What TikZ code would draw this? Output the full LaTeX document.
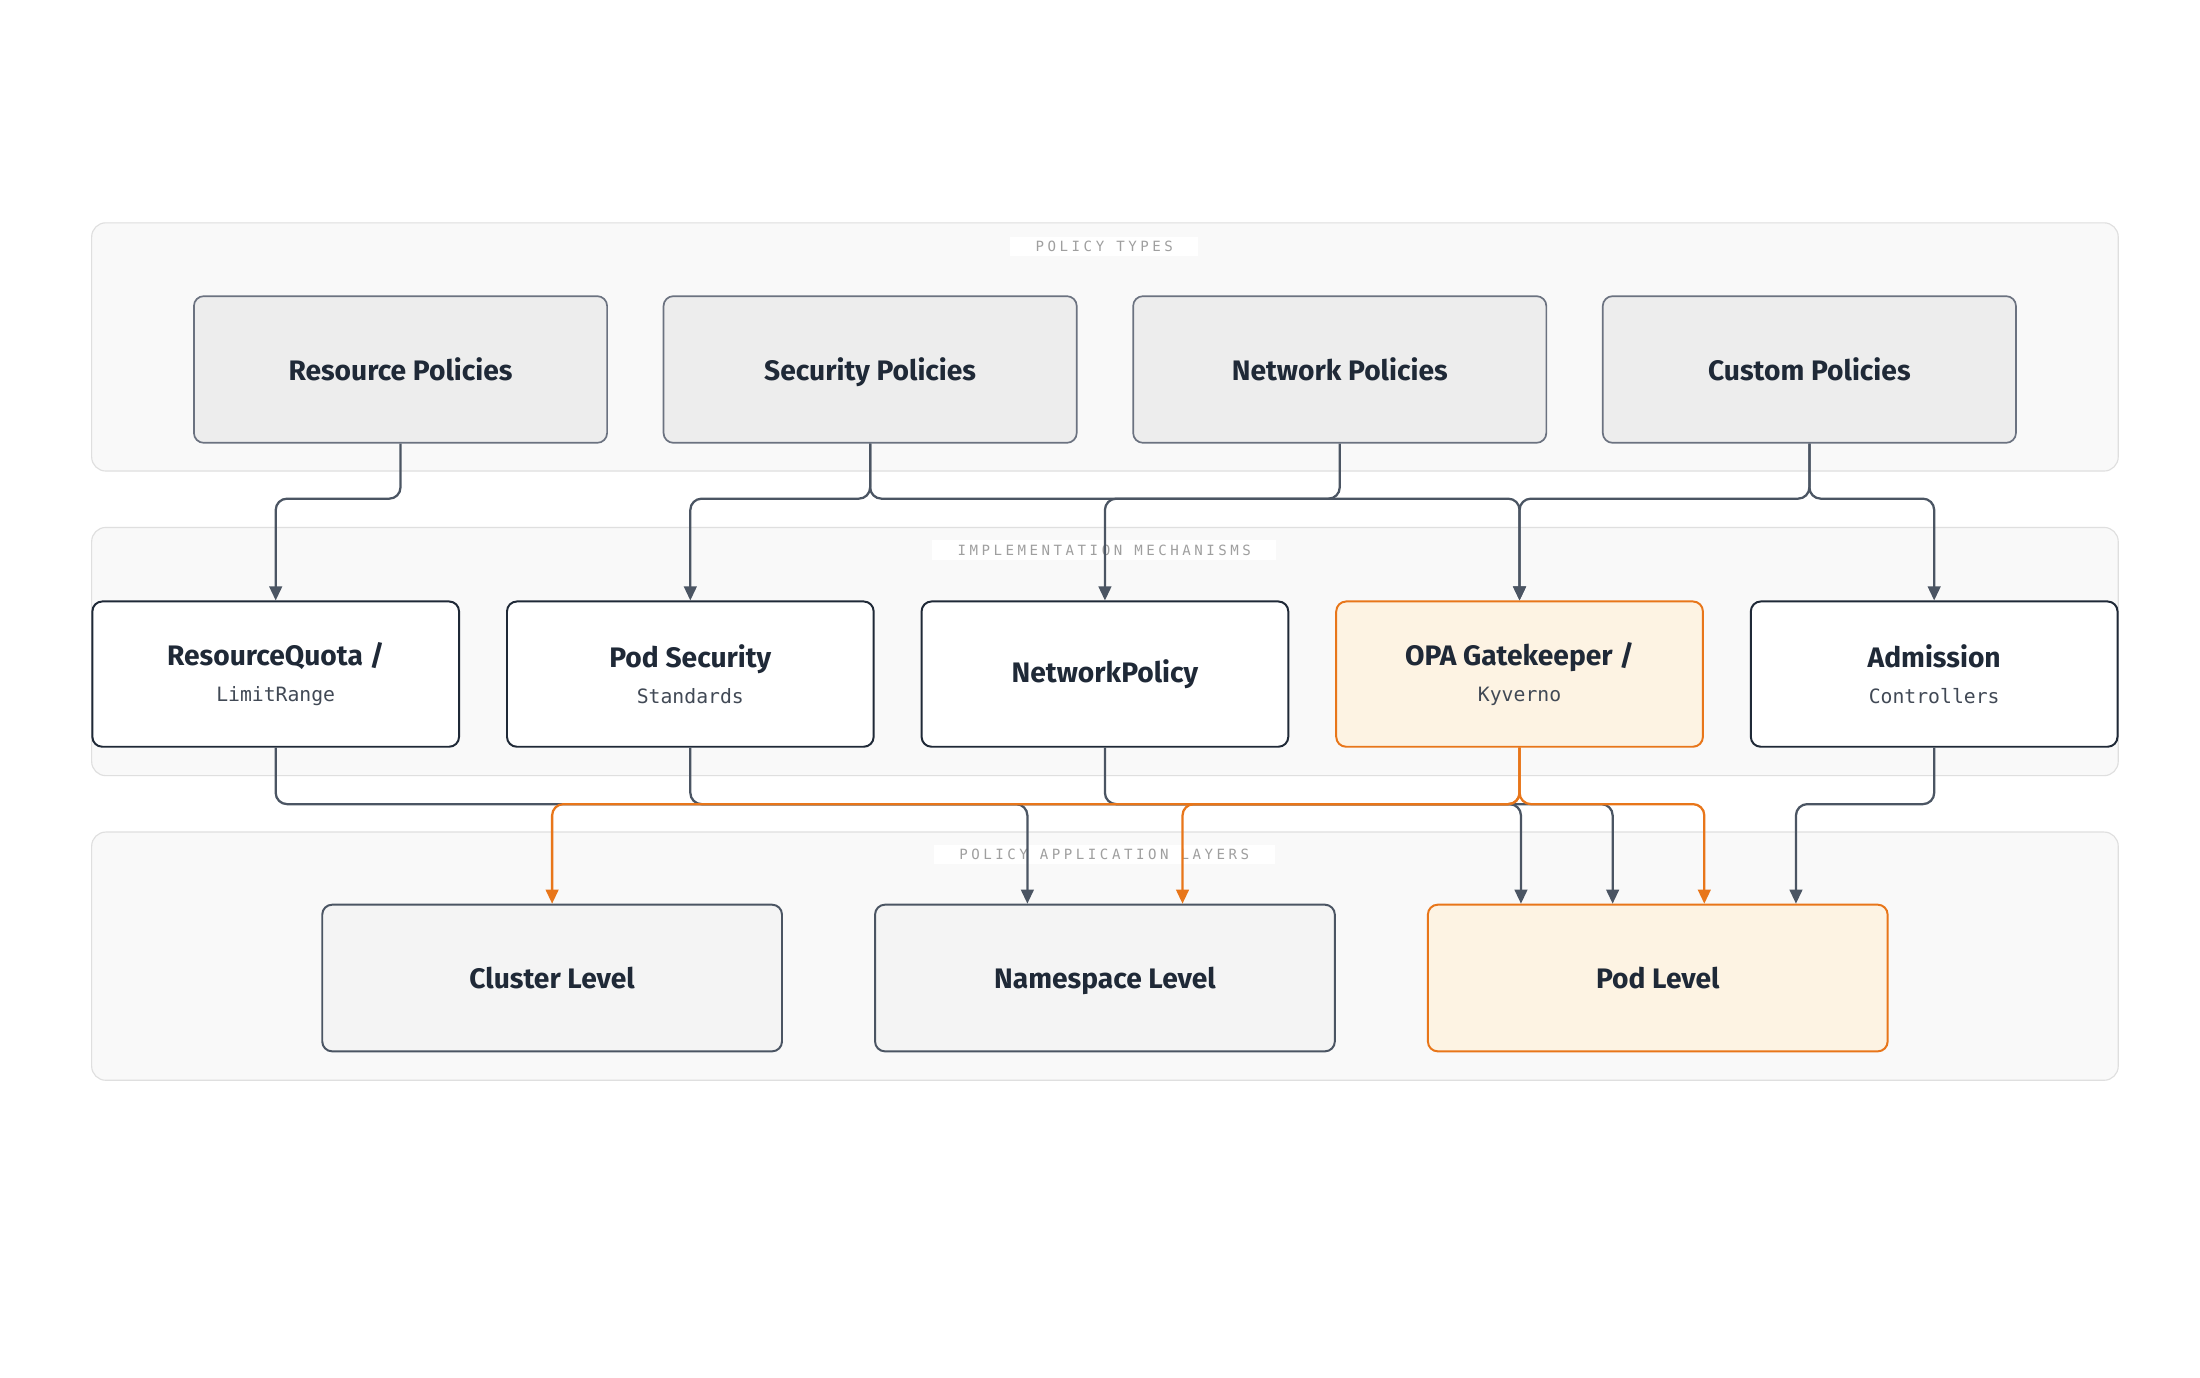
\documentclass[tikz,border=0pt]{standalone}
\usepackage{fontspec}
\setmainfont{Fira Sans}
\newfontfamily\monofont{DejaVu Sans Mono}
\newfontfamily\labelfont[LetterSpace=25]{DejaVu Sans Mono}
\usetikzlibrary{arrows.meta}
\definecolor{linegray}{HTML}{4B5563}
\definecolor{edgegray}{HTML}{6B7280}
\definecolor{darkline}{HTML}{1F2937}
\definecolor{accent}{HTML}{E8761A}
\definecolor{accentfill}{HTML}{FDF3E3}
\tikzset{
  panel/.style={draw=gray!25,fill=gray!5,rounded corners=10pt,line width=0.8pt},
  panellabel/.style={fill=white,text=gray!75,font=\labelfont\fontsize{10}{12}\selectfont,inner xsep=18pt,inner ysep=3pt},
  typebox/.style={draw=edgegray,fill=gray!14,rounded corners=7pt,line width=1.2pt,minimum width=293pt,minimum height=104pt,text depth=0pt,font=\bfseries\fontsize{20}{24}\selectfont,text=darkline},
  mechbox/.style={draw=darkline,fill=white,rounded corners=7pt,line width=1.4pt,minimum width=260pt,minimum height=103pt,align=center,font=\bfseries\fontsize{20}{24}\selectfont,text=darkline},
  layerbox/.style={draw=linegray,fill=gray!9,rounded corners=7pt,line width=1.4pt,minimum width=326pt,minimum height=104pt,text depth=0pt,font=\bfseries\fontsize{20}{24}\selectfont,text=darkline},
  hot/.style={draw=accent,fill=accentfill},
  conn/.style={draw=linegray,line width=1.6pt,rounded corners=8pt,-{Triangle[length=10pt,width=9pt]}},
  hotconn/.style={conn,draw=accent}
}
\newcommand{\sub}[1]{\\[2pt]{\monofont\mdseries\color{darkline!85}\fontsize{14}{18}\selectfont #1}}
\begin{document}
\begin{tikzpicture}[x=1pt,y=-1pt]
    \useasboundingbox[fill=white] (0,0) rectangle (1560,977);
    % panels
    \draw[panel] (65,158) rectangle (1502,334);
    \draw[panel] (65,374) rectangle (1502,550);
    \draw[panel] (65,590) rectangle (1502,766);
    \node[panellabel] (ptlabel) at (783,175) {POLICY TYPES};
    \node[panellabel] (imlabel) at (783,390) {IMPLEMENTATION MECHANISMS};
    \node[panellabel] (allabel) at (783,606) {POLICY APPLICATION LAYERS};
    % policy types
    \node[typebox] (rp) at (284,262) {Resource Policies};
    \node[typebox] (sp) at (617,262) {Security Policies};
    \node[typebox] (np) at (950,262) {Network Policies};
    \node[typebox] (cp) at (1283,262) {Custom Policies};
    % mechanisms
    \node[mechbox] (rq) at (195.5,478) {ResourceQuota /\sub{LimitRange}};
    \node[mechbox] (ps) at (489.5,478) {Pod Security\sub{Standards}};
    \node[mechbox] (nw) at (783.5,478) {NetworkPolicy};
    \node[mechbox,hot] (opa) at (1077.5,478) {OPA Gatekeeper /\sub{Kyverno}};
    \node[mechbox] (ac) at (1371.5,478) {Admission\sub{Controllers}};
    % layers
    \node[layerbox] (cl) at (391.5,693.5) {Cluster Level};
    \node[layerbox] (ns) at (783.5,693.5) {Namespace Level};
    \node[layerbox,hot] (pl) at (1175.5,693.5) {Pod Level};
    % types to mechanisms
    \draw[conn] (rp.south) -- ++(0,39) -| (rq.north);
    \draw[conn] (sp.south) -- ++(0,39) -| (ps.north);
    \draw[conn] (sp.south) -- ++(0,39) -| (opa.north);
    \draw[conn] (np.south) -- ++(0,39) -| (nw.north);
    \draw[conn] (cp.south) -- ++(0,39) -| (opa.north);
    \draw[conn] (cp.south) -- ++(0,39) -| (ac.north);
    % mechanisms to layers
    \draw[conn] (rq.south) -- ++(0,40) -| ([xshift=-55pt]ns.north);
    \draw[conn] (ps.south) -- ++(0,40) -| ([xshift=-97pt]pl.north);
    \draw[conn] (nw.south) -- ++(0,40) -| ([xshift=-32pt]pl.north);
    \draw[conn] (ac.south) -- ++(0,40) -| ([xshift=98pt]pl.north);
    \draw[hotconn] (opa.south) -- ++(0,40) -| (cl.north);
    \draw[hotconn] (opa.south) -- ++(0,40) -| ([xshift=55pt]ns.north);
    \draw[hotconn] (opa.south) -- ++(0,40) -| ([xshift=33pt]pl.north);
\end{tikzpicture}
\end{document}
